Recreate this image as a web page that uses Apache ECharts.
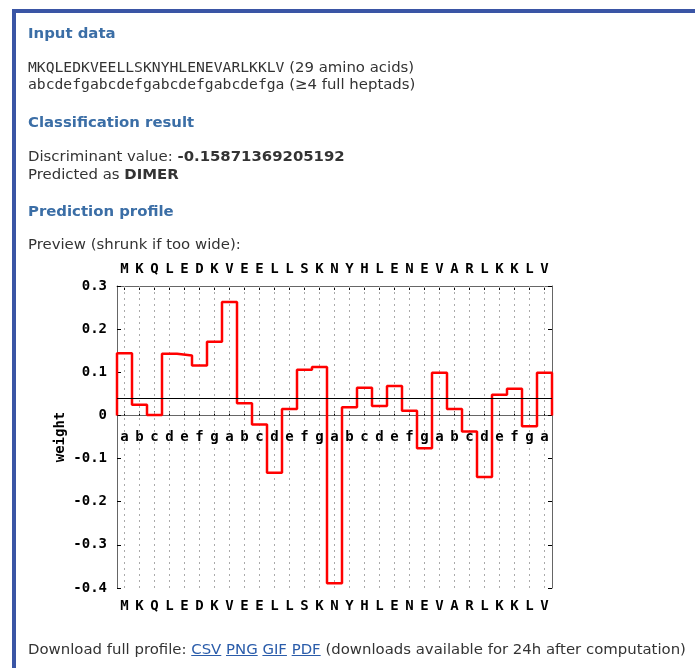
<!DOCTYPE html>
<html>
<head>
<meta charset="utf-8">
<script src="https://cdn.jsdelivr.net/npm/echarts@6/dist/echarts.min.js"></script>
<style>
  html, body { margin: 0; padding: 0; background: #ffffff; }
  body { width: 695px; height: 668px; position: relative; overflow: hidden; }
  #frame { position: absolute; left: 12px; top: 9px; width: 700px; height: 700px;
           border-top: 4px solid #3a55a5; border-left: 4px solid #3a55a5; }
  .t { position: absolute; left: 28px; font-family: "DejaVu Sans", sans-serif; font-size: 14.9px;
       line-height: 17px; color: #333; white-space: nowrap; }
  .h { font-weight: bold; color: #3b6ea6; }
  .m { font-family: "DejaVu Sans Mono", monospace; font-size: 14.7px; }
  .t b { color: #333; }
  a { color: #2a5caa; text-decoration: underline; }
  #chart { position: absolute; left: 0; top: 0; width: 695px; height: 668px; }
</style>
</head>
<body>
<div id="frame"></div>
<div id="chart"></div>
<div class="t h" style="top:25px">Input data</div>
<div class="t" style="top:58px"><span class="m">MKQLEDKVEELLSKNYHLENEVARLKKLV</span> (29 amino acids)</div>
<div class="t" style="top:75px"><span class="m">abcdefgabcdefgabcdefgabcdefga</span> (≥4 full heptads)</div>
<div class="t h" style="top:114px">Classification result</div>
<div class="t" style="top:148px">Discriminant value: <b>-0.15871369205192</b></div>
<div class="t" style="top:166px">Predicted as <b>DIMER</b></div>
<div class="t h" style="top:203px">Prediction profile</div>
<div class="t" style="top:236px">Preview (shrunk if too wide):</div>
<div class="t" style="top:641px">Download full profile: <a>CSV</a> <a>PNG</a> <a>GIF</a> <a>PDF</a> (downloads available for 24h after computation)</div>
<script>
// ---- data ----
const residues = ['M','K','Q','L','E','D','K','V','E','E','L','L','S','K','N','Y','H','L','E','N','E','V','A','R','L','K','K','L','V'];
const heptad   = ['a','b','c','d','e','f','g','a','b','c','d','e','f','g','a','b','c','d','e','f','g','a','b','c','d','e','f','g','a'];
const weights  = [0.144,0.025,0.001,0.143,0.139,0.116,0.171,0.263,0.028,-0.021,
                  -0.133,0.015,0.106,0.112,-0.389,0.019,0.064,0.022,0.068,0.011,
                  -0.076,0.099,0.015,-0.037,-0.143,0.048,0.062,-0.025,0.099];
const threshold = 0.037;
const yMin = -0.4, yMax = 0.3, yStep = 0.1;

// step profile points: residue i spans [i, i+1]
const stepPts = [[0, 0]];
weights.forEach((w, i) => stepPts.push([i, w]));
stepPts.push([weights.length, weights[weights.length - 1]]);
stepPts.push([weights.length, 0]);

const FONT = '"DejaVu Sans Mono", monospace';
const FS = 14;
const chart = echarts.init(document.getElementById('chart'), null, {renderer: 'canvas'});
const catAxisBase = {
  type: 'category', data: residues, boundaryGap: true, gridIndex: 0
};
chart.setOption({
  animation: false,
  backgroundColor: 'transparent',
  grid: { left: 117, top: 286, width: 435, height: 302, containLabel: false },
  xAxis: [
    { type: 'value', min: 0, max: residues.length, show: false },
    Object.assign({}, catAxisBase, {
      position: 'bottom',
      axisLine: { show: true, lineStyle: { color: '#666', width: 1 } },
      axisTick: { show: true, inside: true, alignWithLabel: true, length: 4, lineStyle: { color: '#000' } },
      axisLabel: { show: true, margin: 11, color: '#000', fontFamily: FONT, fontWeight: 'bold', fontSize: FS, interval: 0 },
      splitLine: { show: false }
    }),
    Object.assign({}, catAxisBase, {
      position: 'top',
      axisLine: { show: true, lineStyle: { color: '#666', width: 1 } },
      axisTick: { show: true, inside: true, alignWithLabel: true, length: 4, lineStyle: { color: '#000' } },
      axisLabel: { show: true, margin: 10, color: '#000', fontFamily: FONT, fontWeight: 'bold', fontSize: FS, interval: 0 },
      splitLine: { show: false }
    }),
    Object.assign({}, catAxisBase, {
      data: heptad,
      position: 'top', offset: -151,
      axisLine: { show: false },
      axisTick: { show: false },
      axisLabel: { show: true, margin: 0, verticalAlign: 'middle', color: '#000', fontFamily: FONT, fontWeight: 'bold', fontSize: FS, interval: 0 }
    }),
    Object.assign({}, catAxisBase, {
      position: 'bottom',
      axisLine: { show: false },
      axisTick: { show: true, inside: true, alignWithLabel: true, length: 302,
                  lineStyle: { color: '#aaa', width: 1, type: [2, 4] } },
      axisLabel: { show: false }
    })
  ],
  yAxis: [
    { type: 'value', min: yMin, max: yMax, interval: yStep, position: 'left',
      name: 'weight', nameLocation: 'middle', nameGap: 50, nameRotate: 90, nameMoveOverlap: false,
      nameTextStyle: { color: '#000', fontFamily: FONT, fontWeight: 'bold', fontSize: FS },
      axisLine: { show: true, lineStyle: { color: '#666', width: 1 } },
      axisTick: { show: true, inside: true, length: 4, lineStyle: { color: '#000' } },
      axisLabel: { margin: 10, color: '#000', fontFamily: FONT, fontWeight: 'bold', fontSize: FS,
                   formatter: v => (Math.abs(v) < 1e-9 ? '0' : v.toFixed(1)) },
      splitLine: { show: false } },
    { type: 'value', min: yMin, max: yMax, interval: yStep, position: 'right',
      axisLine: { show: true, lineStyle: { color: '#666', width: 1 } },
      axisTick: { show: true, inside: true, length: 4, lineStyle: { color: '#000' } },
      axisLabel: { show: false }, splitLine: { show: false } }
  ],
  series: [{
    type: 'line', xAxisIndex: 0, yAxisIndex: 0, step: 'end', data: stepPts,
    symbol: 'none', lineStyle: { color: '#ff0000', width: 2.5 }, z: 3,
    markLine: { silent: true, symbol: 'none', label: { show: false },
                lineStyle: { color: '#000', width: 1, type: 'solid' },
                data: [{ yAxis: threshold }] }
  }]
});
</script>
</body>
</html>
